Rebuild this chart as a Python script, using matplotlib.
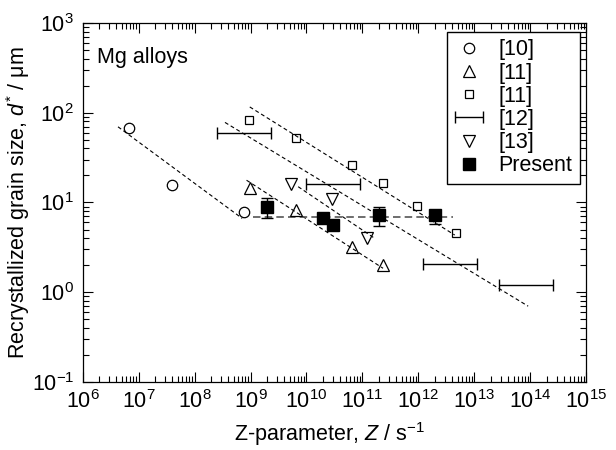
import matplotlib
matplotlib.use('Agg')
import matplotlib.pyplot as plt
import numpy as np
from matplotlib.legend_handler import HandlerErrorbar
from matplotlib.ticker import LogLocator, NullFormatter

plt.rcParams['font.family'] = ['Liberation Sans', 'DejaVu Sans']
plt.rcParams['mathtext.fontset'] = 'custom'
plt.rcParams['mathtext.rm'] = 'Liberation Sans'
plt.rcParams['mathtext.it'] = 'Liberation Sans:italic'
plt.rcParams['mathtext.default'] = 'regular'
plt.rcParams['font.size'] = 15.5

# [10] circles
circ_z = [6.7e6, 3.9e7, 7.7e8]
circ_d = [67, 15.6, 7.8]
# [11] triangles
tri_z = [9.7e8, 6.6e9, 6.4e10, 2.3e11]
tri_d = [14.4, 8.2, 3.2, 2.0]
# [11] squares
sq_z = [9.4e8, 6.6e9, 6.4e10, 2.3e11, 9.6e11, 4.6e12]
sq_d = [84, 52, 26, 16.7, 9.1, 4.6]
# [12] ranges of Z
b12_zlo = [2.5e8, 1.0e10, 1.2e12, 2.7e13]
b12_zhi = [2.3e9, 9.2e10, 1.1e13, 2.5e14]
b12_d = [60, 15.9, 2.07, 1.19]
# [13] inverted triangles
inv_z = [5.2e9, 2.8e10, 1.18e11]
inv_d = [16, 10.8, 4.0]
# present work
pres_z = [2e9, 2e10, 3e10, 2e11, 2e12]
pres_d = [9.0, 6.8, 5.6, 7.2, 7.3]
pres_elo = [2.2, 0.6, 0.6, 1.7, 1.55]
pres_ehi = [2.1, 0.6, 0.6, 1.6, 1.0]
pres_mean_z = [1.1e9, 4.2e12]
pres_mean_d = [6.9, 6.9]

# fitted lines (end points)
fit_circ = ([4.3e6, 7.1e8], [69.7, 6.65])
fit_tri = ([8.5e8, 2.33e11], [17.7, 1.85])
fit_sq = ([9.7e8, 4.45e12], [116, 4.34])
fit_b12 = ([3.5e8, 9.1e13], [78, 0.70])
fit_inv = ([7.1e9, 1.66e11], [15.0, 3.98])

xt_exp = list(range(6, 16))
yt_exp = list(range(-1, 4))

fig = plt.figure(figsize=(6.16, 4.5), dpi=100)
ax = fig.add_axes([0.134, 0.151, 0.818, 0.798])
ax.set_xscale('log')
ax.set_yscale('log')

fit_style = dict(color='k', lw=0.8, ls=(0, (3.5, 2.5)), zorder=1)
for fx, fy in [fit_circ, fit_tri, fit_sq, fit_b12, fit_inv]:
    ax.plot(fx, fy, **fit_style)
ax.plot(pres_mean_z, pres_mean_d, color='#555555', lw=1.2, ls=(0, (4.5, 2.5)), zorder=1)

mk = dict(ls='none', mfc='none', mec='k', mew=0.9, zorder=3)
h10, = ax.plot(circ_z, circ_d, 'o', ms=7.5, **mk)
h11a, = ax.plot(tri_z, tri_d, '^', ms=8.5, **mk)
h11b, = ax.plot(sq_z, sq_d, 's', ms=5.5, **mk)

b12_zc = np.sqrt(np.array(b12_zlo) * np.array(b12_zhi))
h12 = ax.errorbar(b12_zc, b12_d, xerr=[b12_zc - b12_zlo, b12_zhi - b12_zc],
                  fmt='none', ecolor='k', elinewidth=1.0, capsize=4, capthick=1.0, zorder=3)
h13, = ax.plot(inv_z, inv_d, 'v', ms=8.5, **mk)
hp = ax.errorbar(pres_z, pres_d, yerr=[pres_elo, pres_ehi], fmt='s', color='k',
                 ms=9, elinewidth=1.0, capsize=4.5, capthick=1.0, zorder=5)

ax.set_xlim(1e6, 1e15)
ax.set_ylim(1e-1, 1e3)
ax.set_xticks([10.0 ** k for k in xt_exp])
ax.set_xticklabels(['$10^{%d}$' % k for k in xt_exp])
ax.set_yticks([10.0 ** k for k in yt_exp])
ax.set_yticklabels(['$10^{%d}$' % k for k in yt_exp])
for axis in (ax.xaxis, ax.yaxis):
    axis.set_minor_locator(LogLocator(base=10, subs=range(2, 10), numticks=30))
    axis.set_minor_formatter(NullFormatter())
ax.tick_params(which='both', direction='in', top=True, right=True, width=0.8)
ax.tick_params(which='major', length=7.5, pad=6)
ax.tick_params(which='minor', length=4)
for s in ax.spines.values():
    s.set_linewidth(0.9)

ax.set_xlabel('Z-parameter, $\\mathit{Z}$ / s$^{-1}$')
ax.set_ylabel('Recrystallized grain size, $\\mathit{d}^{*}$ / \u03bcm')
ax.xaxis.set_label_coords(0.49, -0.107)
ax.yaxis.set_label_coords(-0.10, 0.5)

ax.text(0.028, 0.889, 'Mg alloys', transform=ax.transAxes, va='baseline', ha='left')

leg = ax.legend([h10, h11a, h11b, h12, h13, hp.lines[0]],
                ['[10]', '[11]', '[11]', '[12]', '[13]', 'Present'],
                loc='upper right', bbox_to_anchor=(0.987, 0.975), frameon=True,
                fancybox=False, edgecolor='k', framealpha=1, borderpad=0.35,
                handlelength=1.35, handletextpad=0.7, labelspacing=0.1,
                borderaxespad=0, handler_map={h12: HandlerErrorbar(xerr_size=0.65)})
leg.get_frame().set_linewidth(1.0)

fig.savefig('out.png', dpi=100)
